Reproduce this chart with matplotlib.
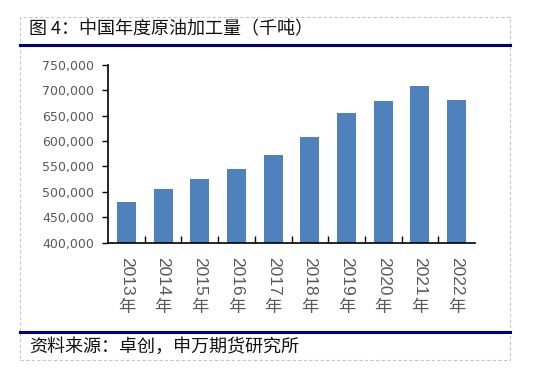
import matplotlib.pyplot as plt
from matplotlib.patches import Rectangle
from matplotlib.lines import Line2D
from matplotlib.ticker import FuncFormatter

years = ['2013', '2014', '2015', '2016', '2017',
         '2018', '2019', '2020', '2021', '2022']
values = [481000, 505500, 525000, 545000, 572000,
          608000, 656000, 678000, 708000, 680000]

cjk = ['Noto Sans CJK SC', 'DejaVu Sans']
plt.rcParams['font.family'] = cjk

fig = plt.figure(figsize=(5.53, 3.76), dpi=100)
W, H = 553.0, 376.0

# outer dashed frame and the two navy rules
fig.add_artist(Rectangle((20 / W, 1 - 360 / H), 490 / W, 343 / H, transform=fig.transFigure,
                         fill=False, edgecolor='#c8c8c8', linestyle=(0, (3, 2)), linewidth=0.8))
for yy in (45, 332):
    fig.add_artist(Line2D([20 / W, 510 / W], [1 - yy / H, 1 - yy / H], transform=fig.transFigure,
                          color='#000080', linewidth=2.2))
fig.text(29 / W, 1 - 29 / H, '图 4：中国年度原油加工量（千吨）', fontsize=13,
         va='center', ha='left', color='#111111')
fig.text(29 / W, 1 - 347 / H, '资料来源：卓创，申万期货研究所', fontsize=13,
         va='center', ha='left', color='#111111')

ax = fig.add_axes([108 / W, 1 - 242.7 / H, 367 / W, 178 / H])
x = range(len(years))
ax.bar(x, values, width=0.52, color='#4f81bd')
ax.set_xlim(-0.5, len(years) - 0.5)
ax.set_ylim(400000, 750000)
ax.set_yticks(range(400000, 750001, 50000))
ax.yaxis.set_major_formatter(FuncFormatter(lambda v, p: f'{int(v):,}'))
for lab in ax.get_yticklabels():
    lab.set_family('DejaVu Sans')
ax.tick_params(axis='y', direction='out', length=4, width=1, labelsize=9,
               labelcolor='#595959', pad=6)

ax.set_xticks([i + 0.5 for i in range(len(years) - 1)], minor=True)
ax.set_xticks(list(x))
ax.set_xticklabels([])
ax.tick_params(axis='x', which='major', length=0)
ax.tick_params(axis='x', which='minor', direction='in', length=5, width=1)

# year digits rotated, 年 upright beneath
for i, yr in enumerate(years):
    ax.annotate(yr, xy=(i, 0), xycoords=('data', 'axes fraction'),
                xytext=(0, -10.5), textcoords='offset points', rotation=270,
                ha='center', va='top', fontsize=12.5, color='#595959',
                family=['Liberation Sans', 'DejaVu Sans'])
    ax.annotate('年', xy=(i, 0), xycoords=('data', 'axes fraction'),
                xytext=(0, -46.5), textcoords='offset points',
                ha='center', va='center', fontsize=12.5, color='#595959')

for s in ('top', 'right'):
    ax.spines[s].set_visible(False)
for s in ('left', 'bottom'):
    ax.spines[s].set_linewidth(1.2)
    ax.spines[s].set_color('black')

fig.savefig('out.png', dpi=100)
